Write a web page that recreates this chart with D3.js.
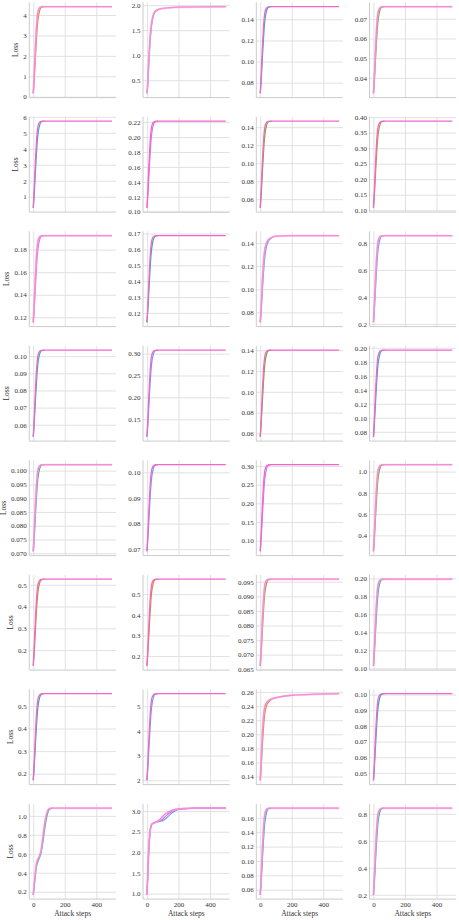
<!DOCTYPE html>
<html>
<head>
<style>
body { margin: 0; background: #fff; }
svg text { font-family: "Liberation Serif", "DejaVu Serif", serif; fill: #333; }
</style>
</head>
<body>
<svg id="chart" width="459" height="920"></svg>

<script src="https://d3js.org/d3.v7.min.js"></script>
<script>

const steps = [0, 5, 10, 15, 20, 25, 30, 40, 50, 70, 100, 200, 500];
const stepsP81 = [0, 10, 20, 30, 40, 50, 60, 70, 80, 90, 100, 120, 200, 500];
const stepsP82 = [0, 5, 10, 15, 20, 25, 30, 40, 60, 80, 100, 120, 140, 160, 180, 200, 250, 300, 500];

const xTickValues = [0, 200, 400];

const palette = ['#f77189', '#dc8932', '#ae9d31', '#77ab31', '#33b07a',
                 '#36ada4', '#38a9c5', '#6e9bf4', '#cc7af4', '#f565cc'];

// y tick labels, panel by panel (rows of 4)
const yTicks = [
  ["0","1","2","3","4"], ["0.5","1.0","1.5","2.0"], ["0.08","0.10","0.12","0.14"], ["0.04","0.05","0.06","0.07"],
  ["1","2","3","4","5","6"], ["0.10","0.12","0.14","0.16","0.18","0.20","0.22"], ["0.06","0.08","0.10","0.12","0.14"], ["0.10","0.15","0.20","0.25","0.30","0.35","0.40"],
  ["0.12","0.14","0.16","0.18"], ["0.12","0.13","0.14","0.15","0.16","0.17"], ["0.08","0.10","0.12","0.14"], ["0.2","0.4","0.6","0.8"],
  ["0.06","0.07","0.08","0.09","0.10"], ["0.10","0.15","0.20","0.25","0.30"], ["0.06","0.08","0.10","0.12","0.14"], ["0.08","0.10","0.12","0.14","0.16","0.18","0.20"],
  ["0.070","0.075","0.080","0.085","0.090","0.095","0.100"], ["0.07","0.08","0.09","0.10"], ["0.10","0.15","0.20","0.25","0.30"], ["0.4","0.6","0.8","1.0"],
  ["0.2","0.3","0.4","0.5"], ["0.2","0.3","0.4","0.5"], ["0.065","0.070","0.075","0.080","0.085","0.090","0.095"], ["0.10","0.12","0.14","0.16","0.18","0.20"],
  ["0.2","0.3","0.4","0.5"], ["2","3","4","5"], ["0.14","0.16","0.18","0.20","0.22","0.24","0.26"], ["0.05","0.06","0.07","0.08","0.09","0.10"],
  ["0.2","0.4","0.6","0.8","1.0"], ["1.0","1.5","2.0","2.5","3.0"], ["0.06","0.08","0.10","0.12","0.14","0.16"], ["0.2","0.4","0.6","0.8"]
];

// top (pink) run of each panel
const mainLoss = [
  [0.17,0.89,1.78,2.63,3.35,3.86,4.16,4.35,4.40,4.41,4.41,4.41,4.41],
  [0.24,0.45,0.80,1.10,1.35,1.52,1.65,1.80,1.87,1.91,1.935,1.96,1.97],
  [0.070,0.0839,0.1012,0.1176,0.1315,0.1413,0.1471,0.1508,0.1518,0.152,0.152,0.152,0.152],
  [0.0322,0.0397,0.0489,0.0577,0.0652,0.0705,0.0736,0.0755,0.0761,0.0762,0.0762,0.0762,0.0762],
  [0.31,1.23,2.37,3.45,4.38,5.03,5.40,5.65,5.71,5.73,5.73,5.73,5.73],
  [0.1053,0.1250,0.1494,0.1726,0.1923,0.2062,0.2143,0.2196,0.2208,0.2213,0.2213,0.2213,0.2213],
  [0.0504,0.0668,0.0870,0.1063,0.1226,0.1342,0.1409,0.1453,0.1464,0.1467,0.1467,0.1467,0.1467],
  [0.108,0.1554,0.2140,0.2698,0.3173,0.3507,0.3703,0.3828,0.3862,0.387,0.387,0.387,0.387],
  [0.1156,0.1287,0.1448,0.1601,0.1732,0.1824,0.1878,0.1912,0.1922,0.1924,0.1924,0.1924,0.1924],
  [0.1141,0.1234,0.1348,0.1458,0.1551,0.1616,0.1654,0.1679,0.1685,0.1687,0.1687,0.1687,0.1687],
  [0.0714,0.083,0.097,0.111,0.122,0.130,0.135,0.140,0.1425,0.1445,0.1458,0.1463,0.1463],
  [0.212,0.321,0.456,0.584,0.694,0.771,0.815,0.844,0.852,0.854,0.854,0.854,0.854],
  [0.053,0.0616,0.0722,0.0823,0.0909,0.0969,0.1005,0.1027,0.1033,0.1035,0.1035,0.1035,0.1035],
  [0.110,0.1437,0.1852,0.2248,0.2585,0.2823,0.2961,0.3050,0.3074,0.308,0.308,0.308,0.308],
  [0.0568,0.0709,0.0884,0.1051,0.1192,0.1292,0.1350,0.1388,0.1398,0.140,0.140,0.140,0.140],
  [0.0729,0.0939,0.1199,0.1446,0.1657,0.1805,0.1892,0.1947,0.1962,0.1966,0.1966,0.1966,0.1966],
  [0.0707,0.0761,0.0827,0.0890,0.0943,0.0981,0.1003,0.1017,0.1021,0.1022,0.1022,0.1022,0.1022],
  [0.0692,0.0749,0.0820,0.0888,0.0946,0.0986,0.1010,0.1025,0.1029,0.103,0.103,0.103,0.103],
  [0.0716,0.1110,0.1597,0.2061,0.2455,0.2734,0.2896,0.3000,0.3028,0.3035,0.3035,0.3035,0.3035],
  [0.25,0.389,0.560,0.723,0.861,0.959,1.016,1.053,1.063,1.065,1.065,1.065,1.065],
  [0.1277,0.1954,0.2790,0.3587,0.4264,0.4742,0.5021,0.5200,0.5248,0.526,0.526,0.526,0.526],
  [0.153,0.2243,0.3124,0.3964,0.4677,0.5181,0.5474,0.5663,0.5713,0.5726,0.5726,0.5726,0.5726],
  [0.0662,0.0712,0.0775,0.0834,0.0885,0.0920,0.0941,0.0955,0.0958,0.0959,0.0959,0.0959,0.0959],
  [0.1029,0.1193,0.1395,0.1588,0.1751,0.1867,0.1934,0.1977,0.1989,0.1992,0.1992,0.1992,0.1992],
  [0.171,0.2362,0.3167,0.3934,0.4586,0.5046,0.5314,0.5487,0.5532,0.5544,0.5544,0.5544,0.5544],
  [2.0,2.597,3.334,4.036,4.633,5.054,5.299,5.457,5.499,5.51,5.51,5.51,5.51],
  [0.1347,0.158,0.185,0.207,0.223,0.234,0.240,0.245,0.2475,0.250,0.252,0.2555,0.2578],
  [0.0453,0.0547,0.0663,0.0774,0.0868,0.0934,0.0973,0.0998,0.1004,0.1006,0.1006,0.1006,0.1006],
  [0.168,0.34,0.49,0.545,0.58,0.64,0.76,0.89,0.99,1.05,1.075,1.082,1.082,1.082],
  [0.97,1.45,1.95,2.3,2.52,2.63,2.68,2.71,2.74,2.79,2.87,2.94,2.99,3.02,3.04,3.055,3.066,3.072,3.073],
  [0.053,0.0735,0.0988,0.1228,0.1433,0.1577,0.1662,0.1716,0.1730,0.1734,0.1734,0.1734,0.1734],
  [0.20,0.309,0.444,0.572,0.682,0.759,0.803,0.832,0.840,0.842,0.842,0.842,0.842]
];

// slower run that shows below the pink one
const lagLoss = [
  [0.17,0.68,1.36,2.08,2.76,3.35,3.77,4.20,4.37,4.41],
  [0.24,0.40,0.72,1.02,1.28,1.47,1.61,1.78,1.86,1.905],
  [0.070,0.0798,0.093,0.1069,0.12,0.1315,0.1397,0.1479,0.1512,0.152],
  [0.0322,0.0375,0.0445,0.0520,0.0590,0.0652,0.0696,0.0740,0.0758,0.0762],
  [0.31,0.96,1.83,2.75,3.62,4.38,4.92,5.46,5.68,5.73],
  [0.1053,0.1192,0.1378,0.1575,0.1761,0.1923,0.2039,0.2155,0.2201,0.2213],
  [0.0504,0.0620,0.0774,0.0937,0.1091,0.1226,0.1323,0.1419,0.1457,0.1467],
  [0.108,0.1415,0.1861,0.2336,0.2782,0.3173,0.3452,0.3731,0.3842,0.387],
  [0.1156,0.1248,0.1371,0.1502,0.1624,0.1732,0.1809,0.1886,0.1916,0.1924],
  [0.1141,0.1207,0.1294,0.1387,0.1474,0.1551,0.1605,0.1660,0.1682,0.1687],
  [0.0714,0.079,0.090,0.102,0.113,0.122,0.129,0.137,0.141,0.144],
  [0.212,0.289,0.392,0.501,0.604,0.694,0.758,0.822,0.848,0.854],
  [0.053,0.0591,0.0671,0.0757,0.0838,0.0909,0.0959,0.1010,0.1030,0.1035],
  [0.110,0.1338,0.1654,0.1991,0.2308,0.2585,0.2783,0.2981,0.3060,0.308],
  [0.0568,0.0668,0.0801,0.0942,0.1076,0.1192,0.1275,0.1358,0.1392,0.140],
  [0.0729,0.0877,0.1075,0.1286,0.1484,0.1657,0.1780,0.1904,0.1954,0.1966],
  [0.0707,0.0745,0.0795,0.0849,0.0899,0.0943,0.0975,0.1006,0.1019,0.1022],
  [0.0692,0.0733,0.0787,0.0844,0.0898,0.0946,0.0979,0.1013,0.1027,0.103],
  [0.0716,0.0994,0.1365,0.1760,0.2131,0.2455,0.2687,0.2919,0.3012,0.3035],
  [0.25,0.348,0.478,0.617,0.747,0.861,0.943,1.024,1.057,1.065],
  [0.1277,0.1755,0.2392,0.3069,0.3707,0.4264,0.4663,0.5061,0.5220,0.526],
  [0.153,0.2034,0.2705,0.3418,0.4090,0.4677,0.5097,0.5516,0.5684,0.5726],
  [0.0662,0.0698,0.0745,0.0796,0.0843,0.0885,0.0914,0.0944,0.0956,0.0959],
  [0.1029,0.1145,0.1299,0.1462,0.1616,0.1751,0.1848,0.1944,0.1983,0.1992],
  [0.171,0.2170,0.2784,0.3435,0.4049,0.4586,0.4969,0.5352,0.5506,0.5544],
  [2.0,2.421,2.983,3.580,4.141,4.633,4.984,5.335,5.475,5.51],
  [0.1347,0.150,0.170,0.190,0.207,0.221,0.231,0.241,0.245,0.249],
  [0.0453,0.0519,0.0608,0.0702,0.0790,0.0868,0.0923,0.0978,0.1000,0.1006],
  [0.168,0.32,0.46,0.52,0.56,0.61,0.71,0.83,0.94,1.02,1.065,1.082],
  [0.97,1.4,1.9,2.25,2.5,2.62,2.67,2.70,2.73,2.75,2.77,2.82,2.89,2.96,3.01,3.04,3.06,3.07,3.073],
  [0.053,0.0674,0.0867,0.1072,0.1264,0.1433,0.1553,0.1674,0.1722,0.1734],
  [0.20,0.277,0.380,0.489,0.592,0.682,0.746,0.810,0.836,0.842]
];
const lagColor = [1,7,6,3, 6,8,3,2, 8,5,7,7, 5,7,3,6, 5,7,8,3, 2,1,2,5, 5,7,1,6, 5,7,6,5];

// third run in the panel with the two-step climb
const extraLoss = [0.97,1.42,1.92,2.28,2.51,2.62,2.675,2.705,2.735,2.76,2.81,2.88,2.95,3.0,3.03,3.05,3.063,3.071,3.073];

// panels whose pale pink band sits over the curves
const paleOnTop = [1,1,0,1, 0,0,0,0, 1,0,1,1, 0,0,0,0, 1,0,0,1, 0,0,1,1, 0,0,1,0, 1,1,1,1];

const svg = d3.select('#chart');
const colLeft = [29.3, 143, 256.3, 369.5], panelW = 86.7;
const rowTop = 2.3, rowStep = 114.5, panelH = 95.3;

function stepsFor(i) {
    if (i === 28) return stepsP81;
    if (i === 29) return stepsP82;
    return steps;
}

mainLoss.forEach(function(main, i) {
    let r = Math.floor(i / 4), c = i % 4;
    let left = colLeft[c], top = rowTop + r * rowStep;
    let st = stepsFor(i);

    let all = main.concat(lagLoss[i]).concat(i === 29 ? extraLoss : []);
    let lo = d3.min(all), hi = d3.max(all), pad = (hi - lo) * 0.05;

    let x = d3.scaleLinear().domain([-25, 525]).range([left, left + panelW]);
    let y = d3.scaleLinear().domain([lo - pad, hi + pad]).range([top + panelH, top]);

    let g = svg.append('g');

    let labels = yTicks[i].filter(function(t) { return +t >= lo - pad && +t <= hi + pad; });
    let yAxis = g.append('g')
        .attr('transform', 'translate(' + left + ',0)')
        .call(d3.axisLeft(y)
            .tickValues(labels.map(Number))
            .tickFormat(function(d, k) { return labels[k]; })
            .tickSize(-panelW)
            .tickPadding(2.5));
    yAxis.select('.domain').remove();
    yAxis.attr('font-size', 7);
    yAxis.selectAll('line').attr('stroke', '#dedede').attr('stroke-width', 0.9);

    let bottomRow = r === 7;
    let xAxis = g.append('g')
        .attr('transform', 'translate(0,' + (top + panelH) + ')')
        .call(d3.axisBottom(x)
            .tickValues(xTickValues)
            .tickFormat(bottomRow ? d3.format('d') : '')
            .tickSize(-panelH)
            .tickPadding(3));
    xAxis.select('.domain').remove();
    xAxis.attr('font-size', 7);
    xAxis.selectAll('line').attr('stroke', '#dedede').attr('stroke-width', 0.9);

    // left and bottom spines
    g.append('line')
        .attr('x1', left).attr('x2', left)
        .attr('y1', top).attr('y2', top + panelH)
        .attr('stroke', '#cccccc').attr('stroke-width', 1);
    g.append('line')
        .attr('x1', left).attr('x2', left + panelW)
        .attr('y1', top + panelH).attr('y2', top + panelH)
        .attr('stroke', '#cccccc').attr('stroke-width', 1);

    let line = d3.line()
        .x(function(d, k) { return x(st[k]); })
        .y(function(d) { return y(d); })
        .curve(d3.curveMonotoneX);

    g.append('path').attr('d', line(lagLoss[i]))
        .attr('fill', 'none').attr('stroke', palette[lagColor[i]]).attr('stroke-width', 1.2);
    if (i === 29) {
        g.append('path').attr('d', line(extraLoss))
            .attr('fill', 'none').attr('stroke', palette[8]).attr('stroke-width', 1.2);
    }
    g.append('path').attr('d', line(main))
        .attr('fill', 'none').attr('stroke', palette[9]).attr('stroke-width', 1.3);
    if (paleOnTop[i]) {
        g.append('path').attr('d', line(main))
            .attr('fill', 'none').attr('stroke', '#f6a8dc').attr('stroke-width', 2)
            .attr('stroke-opacity', 0.6);
    }

    if (c === 0) {
        // sit the label just left of the widest tick label
        let textLeft = d3.min(yAxis.selectAll('text').nodes(), function(n) { return n.getBBox().x; });
        g.append('text')
            .attr('transform', 'translate(' + (left + textLeft - 5.5) + ',' + (top + panelH / 2) + ') rotate(-90)')
            .attr('text-anchor', 'middle')
            .attr('font-size', 7.5)
            .text('Loss');
    }
    if (bottomRow) {
        g.append('text')
            .attr('x', left + panelW / 2).attr('y', 916)
            .attr('text-anchor', 'middle')
            .attr('font-size', 7.5)
            .text('Attack steps');
    }
});

</script>
</body>
</html>
